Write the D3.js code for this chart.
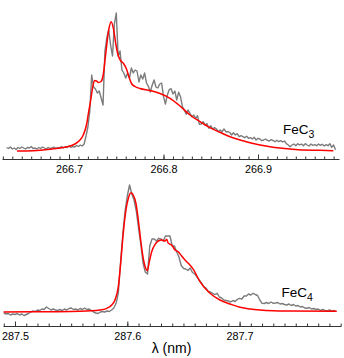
<!DOCTYPE html>
<html><head><meta charset="utf-8">
<script src="https://cdn.jsdelivr.net/npm/d3@7"></script>
<style>
html,body{margin:0;padding:0;background:#fff;}
svg{display:block;}
text{font-family:"Liberation Sans",Arial,Helvetica,sans-serif;fill:#000;}
</style></head>
<body><svg id="chart" width="344" height="358"></svg>
<script>
// ---------- data (wavelength in nm, intensity in arbitrary units) ----------
// FeC3 observed spectrum, uniformly sampled
const fec3Start = 266.634, fec3Step = 0.002;
const fec3Obs = [3.5,2.5,4,2,3,1.5,3.5,2.5,4,3, 2,3.5,3,4.5,2.5,3,2,3.5,2.5,4,
  3,2,3.5,2.5,3,4,2.5,3.5,3,4.5, 3,4,3.5,5,3.5,4.5,4,5.5,4.5,6, 5,
  7,15,24,40,76,64,62,58,60,53,46,100,113,121,106,95,127,138,95,100,
  81,78,73,78,73,83,78,81,80,69,76,72,78,68,64.7,59,65.7,71,64,63,67,68,54.7,47,55.7,61.3,
  62.3,57,60,51,58.7,54.3,44.3,41,36.7,41,37.7,34.3,36,32.7,35.3,26.7,27,29.3,26,27.3,22.7,25.3,22,23.3,
  22,19.3,21,19.3,22,19.3,19.3,18.7,16,18.3,16,17.3,14.3,15.3,14.3,13.3,14.7,12.7,13.3,12,13.7,11,12.7,12,10.3,11,12,10.7,10,11.3,
  10.3,9.3,10.7,9.3,10.3,9,10,7.3,6,4.3,6,7,5.3,7.3,6,7,5.3,7.3,6,5,7,5.7,6.3,5.3,7,5.7,6.7,5,6.3,5.3,7.3,3.7,6,1.3];
// FeC3 simulated contour
const fec3FitLambda = [266.6450,266.6619,266.6799,266.6905,266.6979,266.7042,266.7085,266.7116,266.7151,266.7187,
  266.7206,266.7228,266.7249,266.7270,266.7291,266.7312,266.7339,266.7360,266.7386,266.7418,266.7447,266.7471,
  266.7497,266.7519,266.7545,266.7577,266.7608,266.7635,266.7661,266.7698,266.7751,266.7857,266.7963,266.8069,
  266.8175,266.8280,266.8386,266.8492,266.8598,266.8704,266.8810,266.8915,266.9021,266.9127,266.9233,266.9339,
  266.9479,266.9656,266.9797];
const fec3Fit = [0,0.3,1.7,3,4.3,6,8.3,11,16,27,
  38,50,63,70.5,70,68.5,69.5,75,95,120,129.3,122,
  106,96,90.5,87.5,82,74,67.5,64.5,62.5,60.5,57.5,52.7,
  45,36,29.3,23.3,18.7,14.3,11,8.3,6,4.3,3,2,
  1,0.7,0.3];

// FeC4 observed spectrum, uniformly sampled
const fec4Start = 287.490, fec4Step = 0.002;
const fec4Obs = [-1,-2,-1.5,-3,-2,-2.5,-1.5,-3,-2,-3.5,-2.5,-1.5,0,
  1,0.5,2,1.5,3,2.5,5,3.5,2,3, 2,1.5,2.5,1.5,3,2,3.5,4,2.5,3, 2,3.5,2.5,4,2.5,3,1.5,
  0,-1,-1.5,0,0.5,0,1,0.5,2,4,
  8.7,18.7,50,78,101,116,127,118,112,101,84,68,49,40,38,
  66,73,73,71,73.7,73,71,76,76,76,66,66,60,55,46.5,43.7,43,41.5,
  44,39.5,38,35.3,32,29,25.3,24,20.5,20, 18.7,17.5,18.7,15,14,12,11.5,11,10,11.5,
  10.5,12.7,13.7,13,16,16,18,17,18.7,17.5, 16.5,
  12,8.7,8.5,9.5,8.5,10,8.7,9,9.5,8, 8.5,7.5,7,8,6.5,7.5,6,6.5,5,5.5,
  4,3.7,4.5,3,3.5,2.5,3,1.5,2.5,1.5, 1,2,1,1.5,0.3];
// FeC4 simulated contour
const fec4FitLambda = [287.4898,287.5312,287.5579,287.5757,287.5817,287.5861,287.5890,287.5920,287.5941,287.5964,
  287.5988,287.6009,287.6033,287.6053,287.6077,287.6098,287.6119,287.6142,287.6164,287.6178,287.6196,287.6217,
  287.6247,287.6276,287.6306,287.6336,287.6351,287.6365,287.6395,287.6425,287.6454,287.6484,287.6514,287.6543,
  287.6588,287.6647,287.6736,287.6825,287.6915,287.7004,287.7093,287.7182,287.7300,287.7449,287.7865];
const fec4Fit = [0,0.3,0.7,2,3.7,7,12,25.3,48.7,78.7,
  102,113.7,119.3,117,108.7,92,72,53.7,43.7,41.3,50.3,60.3,
  67.7,71,72,71,72.7,68.7,67,62,60.3,56,52,48.7,
  42.7,30.3,18.7,12,8,4.7,3,2,1.3,1,0.7];

// axis ticks
const topMajor = [266.7, 266.8, 266.9];
const topLabels = ["266.7", "266.8", "266.9"];
const botMajor = [287.5, 287.6, 287.7];
const botLabels = ["287.5", "287.6", "287.7"];
const topMinor = d3.range(0, 36).map(k => 266.63 + k * 0.01);
const botMinor = d3.range(0, 31).map(k => 287.49 + k * 0.01);

// ---------- drawing ----------
const svg = d3.select("#chart");

function panel(cfg) {
  const x = d3.scaleLinear().domain(cfg.xDomain).range([cfg.x0, cfg.x1]);
  const y = d3.scaleLinear().domain([0, 140]).range([cfg.yBase, cfg.yBase - 140]);
  const obs = cfg.obs.map((v, i) => ({l: cfg.start + i * cfg.step, v}));
  const fit = cfg.fitL.map((l, i) => ({l, v: cfg.fit[i]}));
  const g = svg.append("g");

  g.append("g").attr("transform", `translate(0,${cfg.axisY})`)
    .call(d3.axisBottom(x).tickValues(cfg.minor).tickSizeInner(-2.5).tickSizeOuter(0).tickFormat(""));
  const axMajor = g.append("g").attr("transform", `translate(0,${cfg.axisY})`)
    .call(d3.axisBottom(x).tickValues(cfg.major).tickSizeInner(-4.5).tickSizeOuter(0).tickPadding(6)
      .tickFormat((d, i) => cfg.labels[i]));
  axMajor.select(".domain").remove();
  g.selectAll(".domain").attr("stroke", "#333").attr("stroke-width", 1);
  g.selectAll(".tick line").attr("stroke", "#333").attr("stroke-width", 1);
  axMajor.selectAll("text").style("font-size", "10.8px")
    .style("font-family", '"Liberation Sans",Arial,Helvetica,sans-serif').attr("fill", "#000");

  g.append("path").datum(obs).attr("fill", "none").attr("stroke", "#7c7c7c")
    .attr("stroke-width", 1.4).attr("stroke-linejoin", "round")
    .attr("d", d3.line().x(d => x(d.l)).y(d => y(d.v)).curve(d3.curveLinear));
  g.append("path").datum(fit).attr("fill", "none").attr("stroke", "#ff0000")
    .attr("stroke-width", 1.5)
    .attr("d", d3.line().x(d => x(d.l)).y(d => y(d.v)).curve(d3.curveMonotoneX));

  const t = g.append("text").attr("x", cfg.labX).attr("y", cfg.labY).style("font-size", "13.5px");
  t.append("tspan").text("FeC");
  t.append("tspan").attr("dy", 4).style("font-size", "10.5px").text(cfg.sub);
}

panel({xDomain: [266.6291, 266.9857], x0: 2, x1: 339, yBase: 151, axisY: 159,
  start: fec3Start, step: fec3Step, obs: fec3Obs, fitL: fec3FitLambda, fit: fec3Fit,
  minor: topMinor, major: topMajor, labels: topLabels, labX: 283, labY: 134.3, sub: "3"});
panel({xDomain: [287.4893, 287.7903], x0: 3, x1: 341, yBase: 312, axisY: 326,
  start: fec4Start, step: fec4Step, obs: fec4Obs, fitL: fec4FitLambda, fit: fec4Fit,
  minor: botMinor, major: botMajor, labels: botLabels, labX: 281.5, labY: 296.7, sub: "4"});

svg.append("text").attr("x", 171.5).attr("y", 352.5).attr("text-anchor", "middle")
  .style("font-size", "14px").text("λ (nm)");
</script>
</body></html>
